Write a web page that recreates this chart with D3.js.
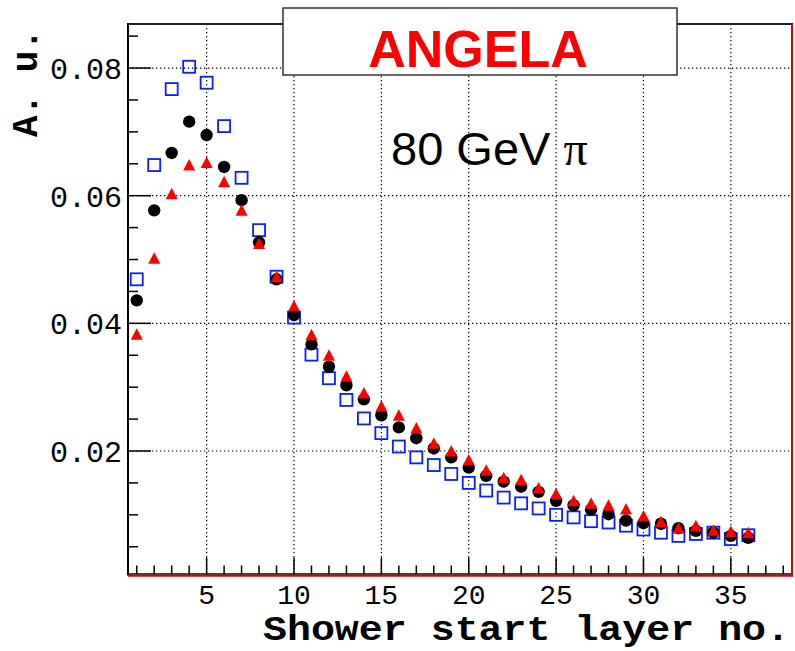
<!DOCTYPE html>
<html>
<head>
<meta charset="utf-8">
<script src="https://cdn.jsdelivr.net/npm/d3@7"></script>
<style>
  html, body { margin: 0; padding: 0; background: #fff; }
  svg { display: block; }
</style>
</head>
<body>
<svg id="chart" width="795" height="651"></svg>
<script>
// ---- data ----
const layers = d3.range(1, 37);
const blackCircles = [0.0436, 0.0577, 0.0667, 0.0716, 0.0695, 0.0645, 0.0593, 0.0527, 0.0469, 0.0413,
  0.0367, 0.0332, 0.0303, 0.0281, 0.0256, 0.0237, 0.0220, 0.0204, 0.0190, 0.0174,
  0.0161, 0.0152, 0.0144, 0.0136, 0.0122, 0.0115, 0.0108, 0.0101, 0.0091, 0.0087,
  0.0086, 0.0079, 0.0075, 0.0072, 0.0067, 0.0064];
const redTriangles = [0.0383, 0.0502, 0.0603, 0.0648, 0.0652, 0.0622, 0.0577, 0.0525, 0.0473, 0.0427,
  0.0382, 0.0350, 0.0317, 0.0291, 0.0270, 0.0256, 0.0236, 0.0212, 0.0200, 0.0186,
  0.0170, 0.0158, 0.0155, 0.0142, 0.0133, 0.0122, 0.0118, 0.0115, 0.0109, 0.0098,
  0.0089, 0.0079, 0.0083, 0.0076, 0.0074, 0.0072];
const blueSquares = [0.0469, 0.0648, 0.0767, 0.0802, 0.0777, 0.0709, 0.0628, 0.0546, 0.0473, 0.0409,
  0.0351, 0.0314, 0.0280, 0.0251, 0.0228, 0.0207, 0.0190, 0.0178, 0.0164, 0.0150,
  0.0138, 0.0127, 0.0118, 0.0110, 0.0100, 0.0096, 0.0090, 0.0088, 0.0083, 0.0077,
  0.0072, 0.0067, 0.0070, 0.0072, 0.0062, 0.0068];
const xMajorTicks = [5, 10, 15, 20, 25, 30, 35];
const xMinorTicks = d3.range(1, 39);
const yMajorTicks = [0.02, 0.04, 0.06, 0.08];
const yTickLabels = ["0.02", "0.04", "0.06", "0.08"];
const yMinorTicks = [0.005, 0.01, 0.015, 0.025, 0.03, 0.035, 0.045, 0.05, 0.055, 0.065, 0.07, 0.075, 0.085];
const xTitle = "Shower start layer no.";
const yTitle = "A. u.";
const boxTitle = "ANGELA";
const beamLabel = "80 GeV ";
const particle = "π";

// ---- layout ----
const L = 128, R = 792, T = 24, B = 574.5;
const x = d3.scaleLinear().domain([0.5, 38.5]).range([L, R]);
const y = d3.scaleLinear().domain([0.00065, 0.0869]).range([B, T]);

const svg = d3.select("#chart");
const mono = "'Liberation Mono', 'Courier New', monospace";
const sans = "'Liberation Sans', Arial, sans-serif";
const serif = "'Liberation Serif', 'Times New Roman', serif";

// grid
const grid = svg.append("g").attr("stroke", "#000").attr("stroke-width", 1.2)
  .attr("stroke-dasharray", "1.3,2.7");
grid.selectAll("line.gx").data(xMajorTicks).join("line")
  .attr("x1", d => x(d)).attr("x2", d => x(d)).attr("y1", T).attr("y2", B);
grid.selectAll("line.gy").data(yMajorTicks).join("line")
  .attr("x1", L).attr("x2", R).attr("y1", d => y(d)).attr("y2", d => y(d));

// ticks (inside)
const ticks = svg.append("g").attr("stroke", "#000").attr("stroke-width", 1.5);
ticks.selectAll("line.xt").data(xMinorTicks).join("line")
  .attr("x1", d => x(d)).attr("x2", d => x(d))
  .attr("y1", B).attr("y2", d => B - (d % 5 === 0 ? 17 : 9));
ticks.selectAll("line.yt").data(yMajorTicks.concat(yMinorTicks)).join("line")
  .attr("y1", d => y(d)).attr("y2", d => y(d))
  .attr("x1", L).attr("x2", d => L + (yMajorTicks.includes(d) ? 23 : 10));

// frame
svg.append("line").attr("x1", L).attr("x2", R + 1).attr("y1", T).attr("y2", T)
  .attr("stroke", "#222").attr("stroke-width", 2);
svg.append("line").attr("x1", L).attr("x2", L).attr("y1", T - 1).attr("y2", B + 1)
  .attr("stroke", "#000").attr("stroke-width", 2);
svg.append("line").attr("x1", L).attr("x2", R).attr("y1", B - 0.5).attr("y2", B - 0.5)
  .attr("stroke", "#000").attr("stroke-width", 1.5);
svg.append("line").attr("x1", L).attr("x2", R + 1).attr("y1", B + 1.2).attr("y2", B + 1.2)
  .attr("stroke", "#e00000").attr("stroke-width", 2);
svg.append("line").attr("x1", R).attr("x2", R).attr("y1", T).attr("y2", B + 2)
  .attr("stroke", "#e00000").attr("stroke-width", 2);

// tick labels
svg.append("g").selectAll("text").data(xMajorTicks).join("text")
  .attr("x", d => x(d)).attr("y", 604)
  .attr("text-anchor", "middle")
  .attr("font-family", mono).attr("font-size", 28).attr("fill", "#000")
  .text(d => d);
svg.append("g").selectAll("text").data(yMajorTicks).join("text")
  .attr("x", 122).attr("y", d => y(d) + 11)
  .attr("text-anchor", "end")
  .attr("font-family", mono).attr("font-size", 30).attr("fill", "#000")
  .text((d, i) => yTickLabels[i]);

// axis titles
svg.append("text").attr("x", 263).attr("y", 640)
  .attr("textLength", 527).attr("lengthAdjust", "spacingAndGlyphs")
  .attr("font-family", mono).attr("font-weight", "bold").attr("font-size", 35)
  .attr("fill", "#000").text(xTitle);
svg.append("text").attr("transform", "translate(37,83) rotate(-90)")
  .attr("text-anchor", "middle")
  .attr("font-family", mono).attr("font-weight", "bold").attr("font-size", 36)
  .attr("fill", "#000").text(yTitle);

// markers
svg.append("g").selectAll("rect").data(layers).join("rect")
  .attr("x", d => x(d) - 6).attr("y", (d, i) => y(blueSquares[i]) - 6)
  .attr("width", 12).attr("height", 12)
  .attr("fill", "none").attr("stroke", "#0a1eff").attr("stroke-width", 1.8);
svg.append("g").selectAll("circle").data(layers).join("circle")
  .attr("cx", d => x(d)).attr("cy", (d, i) => y(blackCircles[i]))
  .attr("r", 6.2).attr("fill", "#000");
svg.append("g").selectAll("path").data(layers).join("path")
  .attr("d", (d, i) => {
    const cx = x(d), cy = y(redTriangles[i]);
    return `M${cx},${cy - 6}L${cx + 6},${cy + 5.5}L${cx - 6},${cy + 5.5}Z`;
  })
  .attr("fill", "#ff0000");

// title box
svg.append("rect").attr("x", 283).attr("y", 8).attr("width", 394).attr("height", 67)
  .attr("fill", "#fff").attr("stroke", "#333").attr("stroke-width", 1.5);
svg.append("text").attr("x", 478).attr("y", 67).attr("text-anchor", "middle")
  .attr("font-family", sans).attr("font-weight", "bold").attr("font-size", 52)
  .attr("fill", "#ff0000").text(boxTitle);

// beam label
const bl = svg.append("text").attr("x", 391).attr("y", 165)
  .attr("font-family", sans).attr("font-size", 47).attr("fill", "#000");
bl.append("tspan").text(beamLabel);
bl.append("tspan").attr("font-family", serif).attr("font-size", 48).text(particle);
</script>
</body>
</html>
